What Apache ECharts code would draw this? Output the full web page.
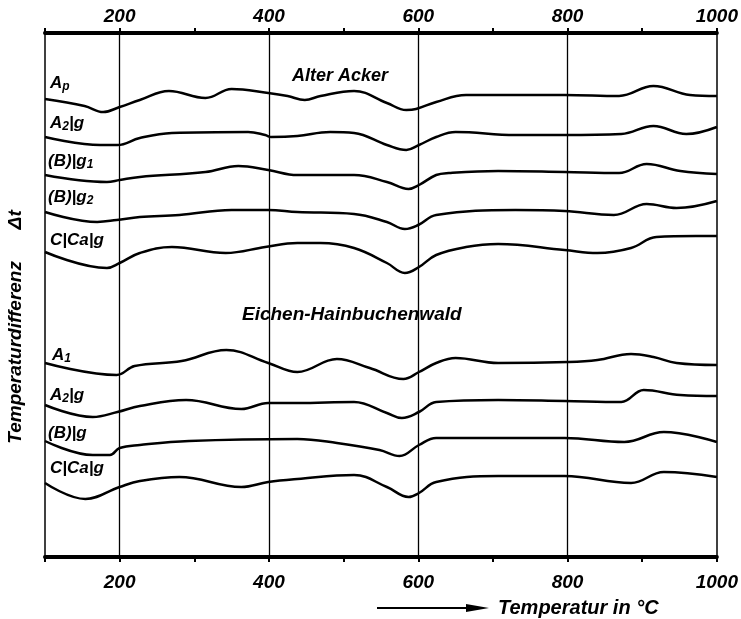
<!DOCTYPE html>
<html>
<head>
<meta charset="utf-8">
<script src="https://cdn.jsdelivr.net/npm/echarts@6/dist/echarts.min.js"></script>
<style>
html,body{margin:0;padding:0;background:#fff;}
#c{width:741px;height:619px;}
</style>
</head>
<body>
<div id="c"></div>
<script>
// x: Temperatur in °C ; y: relative Temperaturdifferenz (curves offset vertically)
const xTicks = [200, 400, 600, 800, 1000];
const gridTemps = [200, 400, 600, 800];

// Alter Acker
const ackerAp = [[100,458],[153,451],[178,445],[200,450],[227,457],[266,466],[315,459],[350,468],[399,464],[425,461],[448,457],[469,461],[514,466],[558,454],[584,447],[597,448],[624,455],[664,462],[796,462],[869,461],[915,471],[964,462],[1000,461]];
const ackerA2g = [[100,420],[174,412],[197,412],[227,419],[270,424],[372,425],[395,422],[403,420],[438,421],[482,425],[514,424],[558,412],[584,407],[601,412],[624,420],[650,425],[730,422],[796,422],[872,423],[915,431],[959,423],[1000,430]];
const ackerBg1 = [[100,382],[183,375],[200,377],[227,380],[315,385],[359,391],[399,387],[438,382],[514,382],[558,375],[587,368],[601,372],[624,382],[641,384],[707,386],[796,385],[869,384],[906,393],[951,386],[1000,383]];
const ackerBg2 = [[100,345],[170,335],[196,337],[227,340],[280,342],[350,347],[399,347],[438,345],[514,343],[558,335],[582,328],[600,332],[624,342],[730,347],[796,346],[862,342],[906,353],[946,349],[1000,356]];
const ackerCCag = [[100,305],[183,289],[200,294],[227,304],[270,310],[342,304],[395,310],[438,314],[469,314],[514,309],[558,294],[582,284],[601,290],[624,302],[664,310],[707,313],[796,307],[840,304],[885,309],[919,320],[972,321],[1000,321]];

// Eichen-Hainbuchenwald
const waldA1 = [[100,194],[196,182],[220,191],[283,196],[343,207],[399,194],[438,185],[491,198],[535,189],[580,178],[601,185],[624,194],[650,199],[707,194],[800,195],[840,197],[885,203],[915,200],[946,194],[1000,192]];
const waldA2g = [[100,152],[164,140],[197,145],[227,151],[289,157],[363,148],[399,154],[438,154],[514,155],[558,144],[578,139],[601,145],[624,155],[707,157],[796,156],[872,155],[902,167],[951,162],[1000,161]];
const waldBg = [[100,116],[164,102],[187,102],[200,109],[227,112],[293,116],[438,118],[491,114],[548,107],[575,101],[601,112],[624,119],[796,119],[876,115],[929,125],[1000,115]];
const waldCCag = [[100,74],[154,58],[200,70],[227,76],[280,80],[363,70],[399,75],[438,78],[514,82],[558,70],[587,60],[601,64],[624,75],[707,81],[796,81],[885,74],[929,85],[1000,80]];

const seriesDefs = [
  {name:'Ap', data: ackerAp},
  {name:'A2|g', data: ackerA2g},
  {name:'(B)|g1', data: ackerBg1},
  {name:'(B)|g2', data: ackerBg2},
  {name:'C|Ca|g', data: ackerCCag},
  {name:'A1', data: waldA1},
  {name:'A2|g ', data: waldA2g},
  {name:'(B)|g', data: waldBg},
  {name:'C|Ca|g ', data: waldCCag}
];

const FONT = 'Liberation Sans';
const rich = {
  m: {fontFamily: FONT, fontStyle: 'italic', fontSize: 17, fontWeight: 'bold', lineHeight: 20, fill: '#000', color:'#000'},
  s: {fontFamily: FONT, fontStyle: 'italic', fontSize: 12, fontWeight: 'bold', lineHeight: 12, fill: '#000', color:'#000', verticalAlign: 'bottom'}
};
const curveLabels = [
  {t:'{m|A}{s|p}', x:50, y:73},
  {t:'{m|A}{s|2}{m||g}', x:50, y:113},
  {t:'{m|(B)|g}{s|1}', x:48, y:151},
  {t:'{m|(B)|g}{s|2}', x:48, y:187},
  {t:'{m|C|Ca|g}', x:50, y:230},
  {t:'{m|A}{s|1}', x:52, y:345},
  {t:'{m|A}{s|2}{m||g}', x:50, y:385},
  {t:'{m|(B)|g}', x:48, y:423},
  {t:'{m|C|Ca|g}', x:50, y:458}
];

const chart = echarts.init(document.getElementById('c'), null, {renderer:'canvas'});

const series = seriesDefs.map((s, i) => ({
  name: s.name,
  type: 'line',
  data: s.data,
  smooth: 0.4,
  showSymbol: false,
  symbol: 'none',
  lineStyle: {color: '#000', width: 2.5},
  silent: true,
  markLine: i === 0 ? {
    silent: true,
    symbol: ['none','none'],
    label: {show: false},
    lineStyle: {color:'#000', width: 1.3, type: 'solid'},
    data: gridTemps.map(t => ({xAxis: t}))
  } : undefined
}));

const axisLabelStyle = {
  fontFamily: FONT, fontStyle: 'italic', fontWeight: 'bold', fontSize: 19, color: '#000',
  formatter: v => xTicks.indexOf(v) >= 0 ? String(v) : ''
};

const graphics = curveLabels.map(l => ({
  type: 'text', x: l.x, y: l.y, silent: true,
  style: {text: l.t, rich: rich, textVerticalAlign: 'top', verticalAlign: 'top'}
}));
graphics.push(
  {type:'text', x:292, y:76, silent:true, style:{text:'Alter Acker', font:'italic bold 18px "Liberation Sans"', fill:'#000', textVerticalAlign:'middle', verticalAlign:'middle'}},
  {type:'text', x:242, y:315, silent:true, style:{text:'Eichen-Hainbuchenwald', font:'italic bold 19px "Liberation Sans"', fill:'#000', textVerticalAlign:'middle', verticalAlign:'middle'}},
  {type:'text', x:16, y:327, rotation: Math.PI/2, silent:true, style:{text:'Temperaturdifferenz      Δt', font:'italic bold 19px "Liberation Sans"', fill:'#000', textAlign:'center', align:'center', textVerticalAlign:'middle', verticalAlign:'middle'}},
  {type:'text', x:498, y:608, silent:true, style:{text:'Temperatur in °C', font:'italic bold 20px "Liberation Sans"', fill:'#000', textVerticalAlign:'middle', verticalAlign:'middle'}},
  {type:'line', silent:true, shape:{x1:377, y1:608, x2:472, y2:608}, style:{stroke:'#000', lineWidth:2}},
  {type:'polygon', silent:true, shape:{points:[[466,604],[489,608],[466,612]]}, style:{fill:'#000'}}
);

chart.setOption({
  animation: false,
  backgroundColor: '#fff',
  grid: {left: 45, right: 17, top: 33, bottom: 62, containLabel: false},
  xAxis: [
    {type:'value', position:'bottom', min:100, max:1000, interval:100,
     axisLine:{show:true, onZero:false, lineStyle:{color:'#000', width:4}},
     axisTick:{show:true, length:5, lineStyle:{color:'#000', width:2}},
     axisLabel: Object.assign({margin: 16}, axisLabelStyle),
     splitLine:{show:false}},
    {type:'value', position:'top', min:100, max:1000, interval:100,
     axisLine:{show:true, onZero:false, lineStyle:{color:'#000', width:4}},
     axisTick:{show:true, length:5, lineStyle:{color:'#000', width:2}},
     axisLabel: Object.assign({margin: 7}, axisLabelStyle),
     splitLine:{show:false}}
  ],
  yAxis: [
    {type:'value', position:'left', min:0, max:524,
     axisLine:{show:true, onZero:false, lineStyle:{color:'#000', width:1.5}},
     axisTick:{show:false}, axisLabel:{show:false}, splitLine:{show:false}},
    {type:'value', position:'right', min:0, max:524,
     axisLine:{show:true, onZero:false, lineStyle:{color:'#000', width:1.5}},
     axisTick:{show:false}, axisLabel:{show:false}, splitLine:{show:false}}
  ],
  series: series,
  graphic: graphics
});
</script>
</body>
</html>
